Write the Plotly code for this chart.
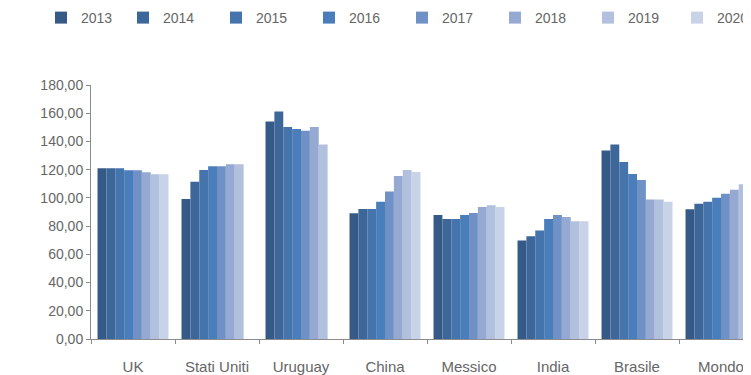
import plotly.graph_objects as go

categories = ["UK", "Stati Uniti", "Uruguay", "China", "Messico", "India", "Brasile", "Mondo"]
years = ["2013", "2014", "2015", "2016", "2017", "2018", "2019", "2020"]

v2013 = [121.0, 99.2, 154.2, 89.1, 87.9, 69.8, 133.6, 91.9]
v2014 = [121.0, 111.5, 161.3, 92.1, 85.1, 72.9, 137.8, 95.9]
v2015 = [121.0, 119.8, 150.3, 92.1, 85.1, 76.9, 125.4, 97.3]
v2016 = [119.5, 122.5, 148.9, 97.3, 87.9, 85.1, 117.0, 100.1]
v2017 = [119.5, 122.5, 147.5, 104.6, 89.3, 87.9, 112.7, 102.9]
v2018 = [118.2, 123.8, 150.3, 115.6, 93.5, 86.5, 98.9, 105.7]
v2019 = [116.8, 123.8, 137.8, 119.8, 94.7, 83.5, 98.9, 109.7]
v2020 = [116.8, None, None, 118.4, 93.5, 83.5, 97.3, 108.5]

series = [v2013, v2014, v2015, v2016, v2017, v2018, v2019, v2020]
colors = ["#365A87", "#3D6699", "#4573AC", "#4A7EBB", "#6F91C6", "#95A9D2", "#B1C0DD", "#C9D3E7"]

TXT = "#666666"
AX = "#8C8C8C"
FONT = "Liberation Sans, Arial, sans-serif"

# the page body adds an 8px offset, so the figure is 8px smaller than the window
W, H = 743, 367

# one single-entry legend per year, laid out in a row across the top
legend_ids = ["legend"] + ["legend%d" % (k + 1) for k in range(1, len(years))]
legend_left_px = [22 + 93 * k for k in range(len(years))]
legend_left_px[0] = 33
legend_left_px[-1] = min(legend_left_px[-1], 669)

fig = go.Figure()
for yr, vals, col, lid in zip(years, series, colors, legend_ids):
    fig.add_trace(go.Bar(
        x=categories, y=vals, name=yr,
        marker=dict(color=col, line=dict(width=0)),
        legend=lid,
    ))

legend_common = dict(
    orientation="h", xref="container", yref="container",
    xanchor="left", y=1 - 10 / H, yanchor="middle",
    font=dict(size=14, color=TXT),
    bgcolor="rgba(0,0,0,0)",
)
legend_layout = {lid: dict(x=px / W, **legend_common)
                 for lid, px in zip(legend_ids, legend_left_px)}

fig.update_layout(
    width=W, height=H,
    margin=dict(l=83, r=0, t=77, b=34),
    paper_bgcolor="white", plot_bgcolor="white",
    barmode="group", bargap=0.155, bargroupgap=0,
    separators=",.",
    font=dict(family=FONT, size=14, color=TXT),
    showlegend=True,
    xaxis=dict(
        type="category", range=[-0.5, 7.357],
        showline=True, linecolor=AX, linewidth=1,
        ticks="outside", tickson="boundaries", ticklen=4, tickcolor=AX,
        showgrid=False, ticklabelstandoff=14,
        tickfont=dict(size=15, color=TXT),
    ),
    yaxis=dict(
        range=[0, 180], dtick=20, tickformat=".2f",
        showline=True, linecolor=AX, linewidth=1,
        ticks="outside", ticklen=4, tickcolor=AX,
        showgrid=False, zeroline=False,
        tickfont=dict(size=14, color=TXT),
    ),
    **legend_layout,
)

fig.write_html("out.html")
